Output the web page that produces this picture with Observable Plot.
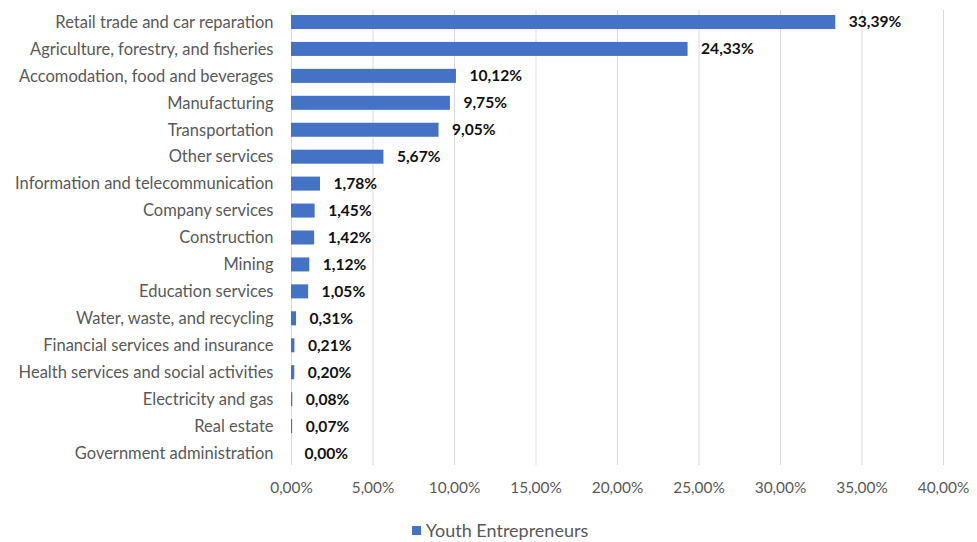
<!DOCTYPE html>
<html>
<head>
<meta charset="utf-8">
<script src="https://cdn.jsdelivr.net/npm/d3@7"></script>
<script src="https://cdn.jsdelivr.net/npm/@observablehq/plot@0.6"></script>
<style>
  html, body { margin: 0; padding: 0; background: #fff; }
  #chart { width: 977px; }
  .legend { font-family: Lato, "Open Sans", sans-serif; font-size: 18px; color: #595959; display: flex; align-items: center; justify-content: center; margin-left: 23px; height: 36px; }
  .legend .sw { display: inline-block; width: 9px; height: 9px; background: #4472C4; margin-right: 5px; }
</style>
</head>
<body>
<div id="chart"></div>
<script>
const sectors = [
  "Retail trade and car reparation",
  "Agriculture, forestry, and fisheries",
  "Accomodation, food and beverages",
  "Manufacturing",
  "Transportation",
  "Other services",
  "Information and telecommunication",
  "Company services",
  "Construction",
  "Mining",
  "Education services",
  "Water, waste, and recycling",
  "Financial services and insurance",
  "Health services and social activities",
  "Electricity and gas",
  "Real estate",
  "Government administration"
];
const shares = [33.39, 24.33, 10.12, 9.75, 9.05, 5.67, 1.78, 1.45, 1.42, 1.12, 1.05, 0.31, 0.21, 0.20, 0.08, 0.07, 0.00];
const xTicks = [0, 5, 10, 15, 20, 25, 30, 35, 40];
const seriesName = "Youth Entrepreneurs";

const data = sectors.map((s, i) => ({sector: s, value: shares[i]}));
const fmt = v => v.toFixed(2).replace(".", ",") + "%";

const chart = Plot.plot({
  width: 977,
  height: 512,
  marginLeft: 291,
  marginRight: 34,
  marginTop: 10,
  marginBottom: 47,
  style: {fontFamily: "Lato, 'Open Sans', sans-serif", fontSize: "16.5px", color: "#595959", background: "#fff"},
  x: {domain: [0, 40], ticks: xTicks, tickFormat: fmt, tickSize: 0, tickPadding: 17, label: null},
  y: {domain: sectors, paddingInner: 0.48, paddingOuter: 0.185, round: false, tickSize: 0, tickPadding: 18, label: null},
  marks: [
    Plot.gridX(xTicks, {stroke: "#d9d9d9", strokeOpacity: 1, strokeWidth: 1}),
    Plot.axisX({ticks: xTicks, tickFormat: fmt, tickSize: 0, tickPadding: 17, fontSize: 15.4, label: null}),
    Plot.axisY({tickSize: 0, tickPadding: 18, fontSize: 16.5, label: null}),
    Plot.barX(data, {x: "value", y: "sector", fill: "#4472C4"}),
    Plot.text(data, {x: "value", y: "sector", text: d => fmt(d.value), textAnchor: "start", dx: 13, fontWeight: "bold", fill: "#111", fontSize: 15.6})
  ]
});
document.getElementById("chart").appendChild(chart);
const leg = document.createElement("div");
leg.className = "legend";
leg.innerHTML = `<span class="sw"></span><span>${seriesName}</span>`;
document.getElementById("chart").appendChild(leg);
</script>
</body>
</html>
